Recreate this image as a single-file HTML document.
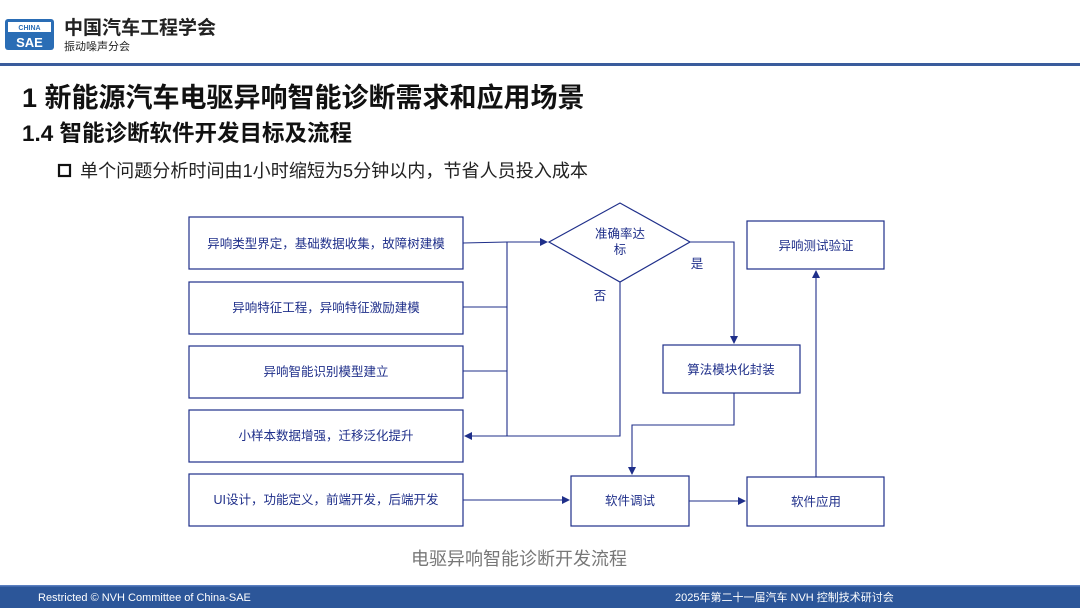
<!DOCTYPE html>
<html><head><meta charset="utf-8"><style>
body{margin:0;width:1080px;height:608px;overflow:hidden;background:#fff;font-family:"Liberation Sans","Noto Sans CJK SC",sans-serif}
</style></head><body>
<svg width="1080" height="608" viewBox="0 0 1080 608" xmlns="http://www.w3.org/2000/svg" font-family="Liberation Sans, Noto Sans CJK SC, sans-serif">
<defs><marker id="a" markerWidth="8" markerHeight="8" refX="7" refY="4" orient="auto" markerUnits="userSpaceOnUse"><path d="M0,0 L8,4 L0,8 z" fill="#1f2f8a"/></marker></defs>
<rect x="5" y="19" width="49" height="31" rx="3" fill="#2a6db5"/>
<rect x="8" y="22" width="43" height="10" fill="#fff"/>
<text x="29.5" y="30" font-size="7" font-weight="bold" fill="#2a6db5" text-anchor="middle">CHINA</text>
<text x="29.5" y="47" font-size="13" font-weight="bold" fill="#fff" text-anchor="middle">SAE</text>
<text x="64" y="34" font-size="19" font-weight="bold" fill="#222">中国汽车工程学会</text>
<text x="64" y="50" font-size="11" fill="#222">振动噪声分会</text>
<rect x="0" y="63" width="1080" height="3" fill="#3a5c9c"/>
<text x="22" y="107" font-size="27" font-weight="bold" fill="#111">1 新能源汽车电驱异响智能诊断需求和应用场景</text>
<text x="22" y="141" font-size="22.5" font-weight="bold" fill="#111">1.4 智能诊断软件开发目标及流程</text>
<rect x="59" y="165" width="11" height="11" fill="none" stroke="#111" stroke-width="2.2"/>
<text x="80" y="177" font-size="18" fill="#222" textLength="508" lengthAdjust="spacingAndGlyphs">单个问题分析时间由1小时缩短为5分钟以内，节省人员投入成本</text>
<g fill="#fff" stroke="#1f2f8a" stroke-width="1.2">
<rect x="189" y="217" width="274" height="52"/>
<rect x="189" y="282" width="274" height="52"/>
<rect x="189" y="346" width="274" height="52"/>
<rect x="189" y="410" width="274" height="52"/>
<rect x="189" y="474" width="274" height="52"/>
<polygon points="549,242 620,203 690,242 620,282"/>
<rect x="747" y="221" width="137" height="48"/>
<rect x="663" y="345" width="137" height="48"/>
<rect x="571" y="476" width="118" height="50"/>
<rect x="747" y="477" width="137" height="49"/>
</g>
<g fill="none" stroke="#1f2f8a" stroke-width="1.1">
<path d="M463,243 L507,242"/>
<path d="M463,307 H507 M463,371 H507 M507,242 V436"/>
<path d="M507,242 H547" marker-end="url(#a)"/>
<path d="M620,282 V436 H465" marker-end="url(#a)"/>
<path d="M690,242 H734 V343" marker-end="url(#a)"/>
<path d="M734,393 V425 H632 V474" marker-end="url(#a)"/>
<path d="M463,500 H569" marker-end="url(#a)"/>
<path d="M689,501 H745" marker-end="url(#a)"/>
<path d="M816,477 V271" marker-end="url(#a)"/>
</g>
<g font-size="12.5" fill="#1f2f8a" text-anchor="middle">
<text x="326" y="248">异响类型界定，基础数据收集，故障树建模</text>
<text x="326" y="312">异响特征工程，异响特征激励建模</text>
<text x="326" y="376">异响智能识别模型建立</text>
<text x="326" y="440">小样本数据增强，迁移泛化提升</text>
<text x="326" y="504">UI设计，功能定义，前端开发，后端开发</text>
<text x="620" y="238">准确率达</text>
<text x="620" y="254">标</text>
<text x="697" y="268">是</text>
<text x="600" y="300">否</text>
<text x="816" y="250">异响测试验证</text>
<text x="731" y="374">算法模块化封装</text>
<text x="630" y="505">软件调试</text>
<text x="816" y="506">软件应用</text>
</g>
<text x="519" y="565" font-size="18" fill="#777" text-anchor="middle">电驱异响智能诊断开发流程</text>
<rect x="0" y="585" width="1080" height="23" fill="#2c5699"/>
<rect x="0" y="585" width="1080" height="1.5" fill="#5a7fc0"/>
<text x="38" y="601" font-size="11" fill="#fff">Restricted © NVH Committee of China-SAE</text>
<text x="675" y="601" font-size="11" fill="#fff">2025年第二十一届汽车 NVH 控制技术研讨会</text>
</svg>
</body></html>
